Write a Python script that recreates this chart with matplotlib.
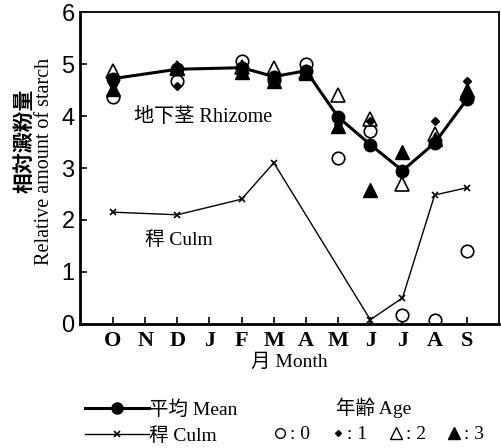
import matplotlib.pyplot as plt
from matplotlib.lines import Line2D

plt.rcParams['font.family'] = ['Liberation Serif', 'Noto Sans CJK JP']

months = ["O", "N", "D", "J", "F", "M", "A", "M", "J", "J", "A", "S"]
# sampled months (index into months)
x_rhiz = [0, 2, 4, 5, 6, 7, 8, 9, 10, 11]
mean = [4.72, 4.90, 4.93, 4.76, 4.87, 3.98, 3.45, 2.95, 3.48, 4.32]
age0 = [4.37, 4.68, 5.05, 4.70, 5.00, 3.20, 3.72, 0.18, 0.07, 1.40]
age1 = [4.60, 4.58, 4.82, 4.72, 4.85, 3.85, 3.90, 2.90, 3.90, 4.68]
age2 = [4.87, 4.92, 4.95, 4.92, 4.85, 4.40, 3.95, 2.70, 3.65, 4.45]
age3 = [4.52, 4.92, 4.85, 4.68, 4.82, 3.80, 2.58, 3.30, 3.55, 4.50]

x_culm = [0, 2, 4, 5, 8, 9, 10, 11]
culm = [2.15, 2.10, 2.40, 3.10, 0.08, 0.50, 2.48, 2.62]

fig = plt.figure(figsize=(5.01, 4.48), dpi=100)
ax = fig.add_axes([0.160, 0.277, 0.836, 0.696])

ax.plot(x_culm, culm, color="black", lw=1.0, marker="x", ms=5, mew=1.2)
ax.plot(x_rhiz, age0, ls="none", marker="o", ms=9, mfc="white", mec="black", mew=1.2)
ax.plot(x_rhiz, age2, ls="none", marker="^", ms=10, mfc="white", mec="black", mew=1.2)
ax.plot(x_rhiz, age3, ls="none", marker="^", ms=10, mfc="black", mec="black")
ax.plot(x_rhiz, age1, ls="none", marker="D", ms=4, mfc="black", mec="black")
ax.plot(x_rhiz, mean, color="black", lw=2.2, marker="o", ms=9, mfc="black", mec="black")

ax.set_xlim(-1.02, 12.0)
ax.set_ylim(0, 6)
ax.set_xticks(range(len(months)))
ax.set_xticklabels(months, fontsize=16, fontweight="bold")
ax.set_yticks(range(7))
ax.set_yticklabels([str(v) for v in range(7)], fontsize=17, family="Liberation Sans")
ax.tick_params(direction="in", length=5, width=1.2, pad=4)
ax.tick_params(axis="x", pad=5)
for side in ["left", "bottom"]:
    ax.spines[side].set_linewidth(2.0)
for side in ["top", "right"]:
    ax.spines[side].set_linewidth(1.3)

ax.text(2.8, 3.98, "地下茎 Rhizome", fontsize=14.5, ha="center", va="center")
ax.text(2.05, 1.62, "稈 Culm", fontsize=14, ha="center", va="center")

ax.set_xlabel("月 Month", fontsize=14, labelpad=2)
fig.text(0.050, 0.685, "相対澱粉量", rotation=90, fontsize=15, fontweight="bold",
         ha="center", va="center")
fig.text(0.088, 0.64, "Relative amount of starch", rotation=90, fontsize=14.5,
         ha="center", va="center")

# legend: line series
h_mean = Line2D([], [], color="black", lw=2.2, marker="o", ms=8)
h_culm = Line2D([], [], color="black", lw=1.0, marker="x", ms=4, mew=1.2)
fig.legend([h_mean, h_culm], ["平均 Mean", "稈 Culm"], loc="upper left",
           bbox_to_anchor=(0.170, 0.107), frameon=False, fontsize=14,
           handlelength=3.3, handletextpad=0.0, labelspacing=0.45,
           borderpad=0, borderaxespad=0)

fig.text(0.745, 0.089, "年齢 Age", fontsize=14, ha="center", va="center")
h0 = Line2D([], [], ls="none", marker="o", ms=7, mfc="white", mec="black")
h1 = Line2D([], [], ls="none", marker="D", ms=3, mfc="black", mec="black")
h2 = Line2D([], [], ls="none", marker="^", ms=9, mfc="white", mec="black")
h3 = Line2D([], [], ls="none", marker="^", ms=9, mfc="black", mec="black")
fig.legend([h0, h1, h2, h3], [": 0", ": 1", ": 2", ": 3"], loc="center left",
           bbox_to_anchor=(0.543, 0.030), frameon=False, fontsize=14, ncol=4,
           handlelength=0.8, handletextpad=0.1, columnspacing=1.05, borderpad=0,
           borderaxespad=0)

fig.savefig("out.png", dpi=100)
